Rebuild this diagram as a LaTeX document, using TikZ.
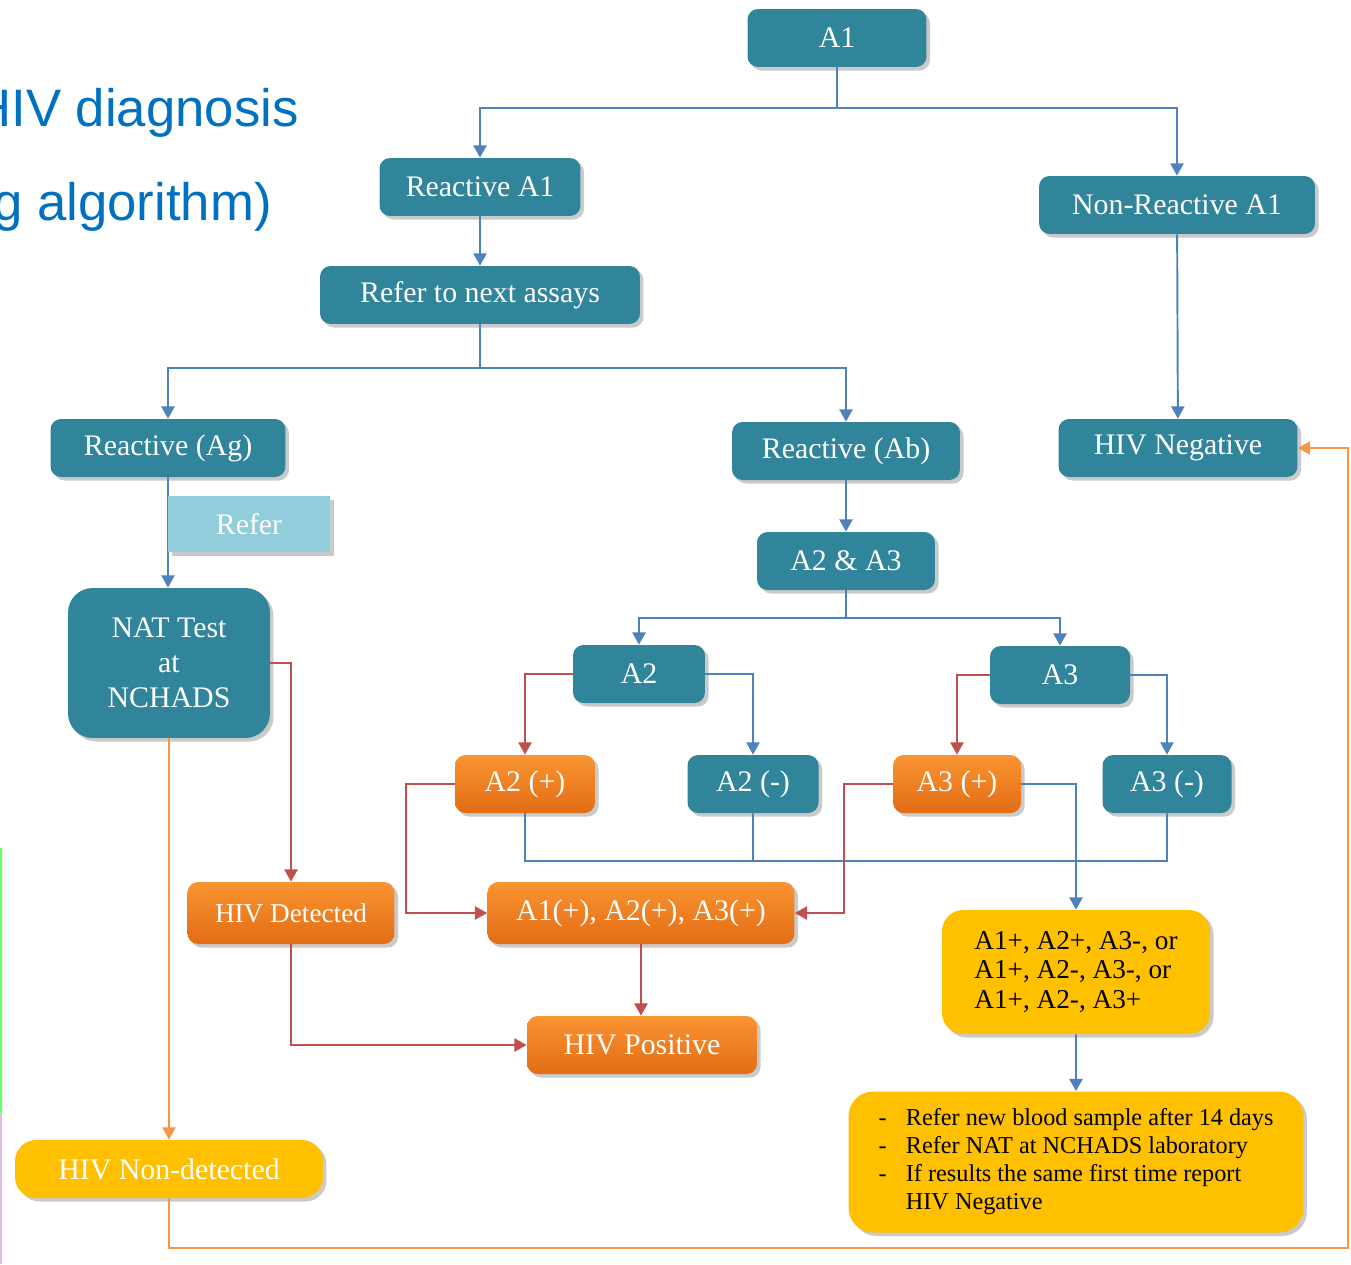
\documentclass[tikz,border=0pt]{standalone}
\usepackage{fontspec}
\setmainfont{Liberation Serif}
\newfontfamily\titlefont{Liberation Sans}
\usetikzlibrary{arrows.meta, positioning, calc, shadows}
\definecolor{boxteal}{RGB}{49,133,155}
\definecolor{referblue}{RGB}{146,205,220}
\definecolor{orangetop}{RGB}{250,148,50}
\definecolor{orangebot}{RGB}{226,108,20}
\definecolor{resultyellow}{RGB}{255,192,0}
\definecolor{lineblue}{RGB}{79,129,189}
\definecolor{linered}{RGB}{192,80,77}
\definecolor{lineorange}{RGB}{247,150,70}
\definecolor{titleblue}{RGB}{0,112,192}

\tikzset{
    flowbox/.style={rounded corners=6pt, minimum height=1.16cm, inner sep=2pt, text=white,
        font=\fontsize{17}{20}\selectfont,
        drop shadow={shadow xshift=2pt, shadow yshift=-2pt, opacity=0.35, fill=black!60}},
    tealbox/.style={flowbox, fill=boxteal},
    orangebox/.style={flowbox, top color=orangetop, bottom color=orangebot},
    yellowbox/.style={flowbox, fill=resultyellow, text=black, rounded corners=12pt},
    bline/.style={draw=lineblue, line width=1.1pt},
    rline/.style={draw=linered, line width=1.1pt},
    oline/.style={draw=lineorange, line width=1.1pt},
    tip/.style={-{Triangle[length=7pt, width=7.5pt]}}
}

\begin{document}
\begin{tikzpicture}[x=0.02cm, y=-0.02cm]
    \useasboundingbox (0,0) rectangle (1351,1264);
    \clip (0,0) rectangle (1351,1264);

    % Title (cut at the left)
    \node[anchor=base east, font=\titlefont\fontsize{30}{36}\selectfont, text=titleblue, inner sep=0pt] (title1) at (299,126) {HIV diagnosis};
    \node[anchor=base east, font=\titlefont\fontsize{30}{36}\selectfont, text=titleblue, inner sep=0pt] (title2) at (272,220) {g algorithm)};
    \draw[green!60, line width=1pt] (1,848) -- (1,1113);
    \draw[violet!25, line width=1pt] (1,1113) -- (1,1264);

    % First assay
    \node[tealbox, minimum width=3.58cm] (a1) at (837,38) {A1};
    \node[tealbox, minimum width=4.02cm] (ra1) at (480,187) {Reactive A1};
    \node[tealbox, minimum width=5.52cm] (nra1) at (1177,205) {Non-Reactive A1};
    \node[tealbox, minimum width=6.4cm] (next) at (480,295) {Refer to next assays};

    % Second level
    \node[tealbox, minimum width=4.7cm] (ag) at (168,448) {Reactive (Ag)};
    \node[tealbox, minimum width=4.56cm] (ab) at (846,451) {Reactive (Ab)};
    \node[tealbox, minimum width=4.78cm] (neg) at (1178,448) {HIV Negative};
    \node[tealbox, minimum width=4.04cm, minimum height=3cm, rounded corners=14pt, align=center] (nat) at (169,663) {NAT Test\\at\\NCHADS};
    \node[tealbox, minimum width=3.56cm] (a23) at (846,561) {A2 \& A3};

    % A2 and A3
    \node[tealbox, minimum width=2.64cm] (a2) at (639,674) {A2};
    \node[tealbox, minimum width=2.8cm] (a3) at (1060,675) {A3};
    \node[orangebox, minimum width=2.8cm] (a2p) at (525,784) {A2 (+)};
    \node[tealbox, minimum width=2.62cm] (a2m) at (753,784) {A2 (-)};
    \node[orangebox, minimum width=2.56cm] (a3p) at (957,784) {A3 (+)};
    \node[tealbox, minimum width=2.58cm] (a3m) at (1167,784) {A3 (-)};

    % Results
    \node[orangebox, minimum width=4.14cm, minimum height=1.24cm, font=\fontsize{15.5}{18}\selectfont] (det) at (291,913) {HIV Detected};
    \node[orangebox, minimum width=6.14cm, minimum height=1.24cm] (all3) at (641,913) {A1(+), A2(+), A3(+)};
    \node[orangebox, minimum width=4.6cm] (pos) at (642,1045) {HIV Positive};
    \node[yellowbox, minimum width=5.36cm, minimum height=2.48cm, align=left, font=\fontsize{15.5}{17}\selectfont] (yel1) at (1076,972) {A1+, A2+, A3-, or\\A1+, A2-, A3-, or\\A1+, A2-, A3+};
    \node[yellowbox, minimum width=9.1cm, minimum height=2.82cm, rounded corners=14pt, font=\fontsize{13.8}{16}\selectfont] (yel2) at (1076,1162) {%
        \begin{tabular}{@{}l@{\hspace{11pt}}l@{}}
        - & Refer new blood sample after 14 days\\
        - & Refer NAT at NCHADS laboratory\\
        - & If results the same first time report\\
          & HIV Negative
        \end{tabular}};
    \node[yellowbox, text=white, minimum width=6.16cm] (nondet) at (169,1169) {HIV Non-detected};

    % Split points
    \coordinate (split1) at (837,108);
    \coordinate (split2) at (480,368);
    \coordinate (split3) at (846,618);
    \coordinate (loop) at (1348,1248);

    % Blue connectors
    \draw[bline] (a1.south) -- (split1);
    \draw[bline, tip] (split1) -| (ra1.north);
    \draw[bline, tip] (split1) -| (nra1.north);
    \draw[bline, tip] (ra1) -- (next);
    \draw[bline] (next.south) -- (split2);
    \draw[bline, tip] (split2) -| (ag.north);
    \draw[bline, tip] (split2) -| (ab.north);
    \draw[bline, tip] (nra1) -- (neg);
    \draw[bline, tip] (ag.south) -- (ag.south |- nat.north);
    \draw[bline, tip] (ab) -- (a23);
    \draw[bline] (a23.south) -- (split3);
    \draw[bline, tip] (split3) -| (a2.north);
    \draw[bline, tip] (split3) -| (a3.north);
    \draw[bline, tip] (a2.east) -| (a2m.north);
    \draw[bline, tip] (a3.east) -| (a3m.north);
    \draw[bline] (a2p.south) -- (a2p.south |- 0,861) -- (a3m.south |- 0,861) -- (a3m.south);
    \draw[bline] (a2m.south) -- (a2m.south |- 0,861);
    \draw[bline, tip] (a3p.east) -| (yel1.north);
    \draw[bline, tip] (yel1) -- (yel2);

    % Refer label
    \node[fill=referblue, text=white, minimum width=3.24cm, minimum height=1.12cm, font=\fontsize{17}{20}\selectfont,
        drop shadow={shadow xshift=2pt, shadow yshift=-2pt, opacity=0.35, fill=black!60}] (refer) at (249,524) {Refer};

    % Red connectors
    \draw[rline, tip] (a2.west) -| (a2p.north);
    \draw[rline, tip] (a3.west) -| (a3p.north);
    \draw[rline, tip] (a2p.west) -- ++(-49,0) |- (all3.west);
    \draw[rline, tip] (a3p.west) -- ++(-49,0) |- (all3.east);
    \draw[rline, tip] (all3.south) -- (all3.south |- pos.north);
    \draw[rline, tip] (nat.east) -| (det.north);
    \draw[rline, tip] (det.south) |- (pos.west);

    % Orange connectors
    \draw[oline, tip] (nat.south) -- (nondet.north);
    \draw[oline, tip] (nondet.south) |- (loop) |- (neg.east);
\end{tikzpicture}
\end{document}
